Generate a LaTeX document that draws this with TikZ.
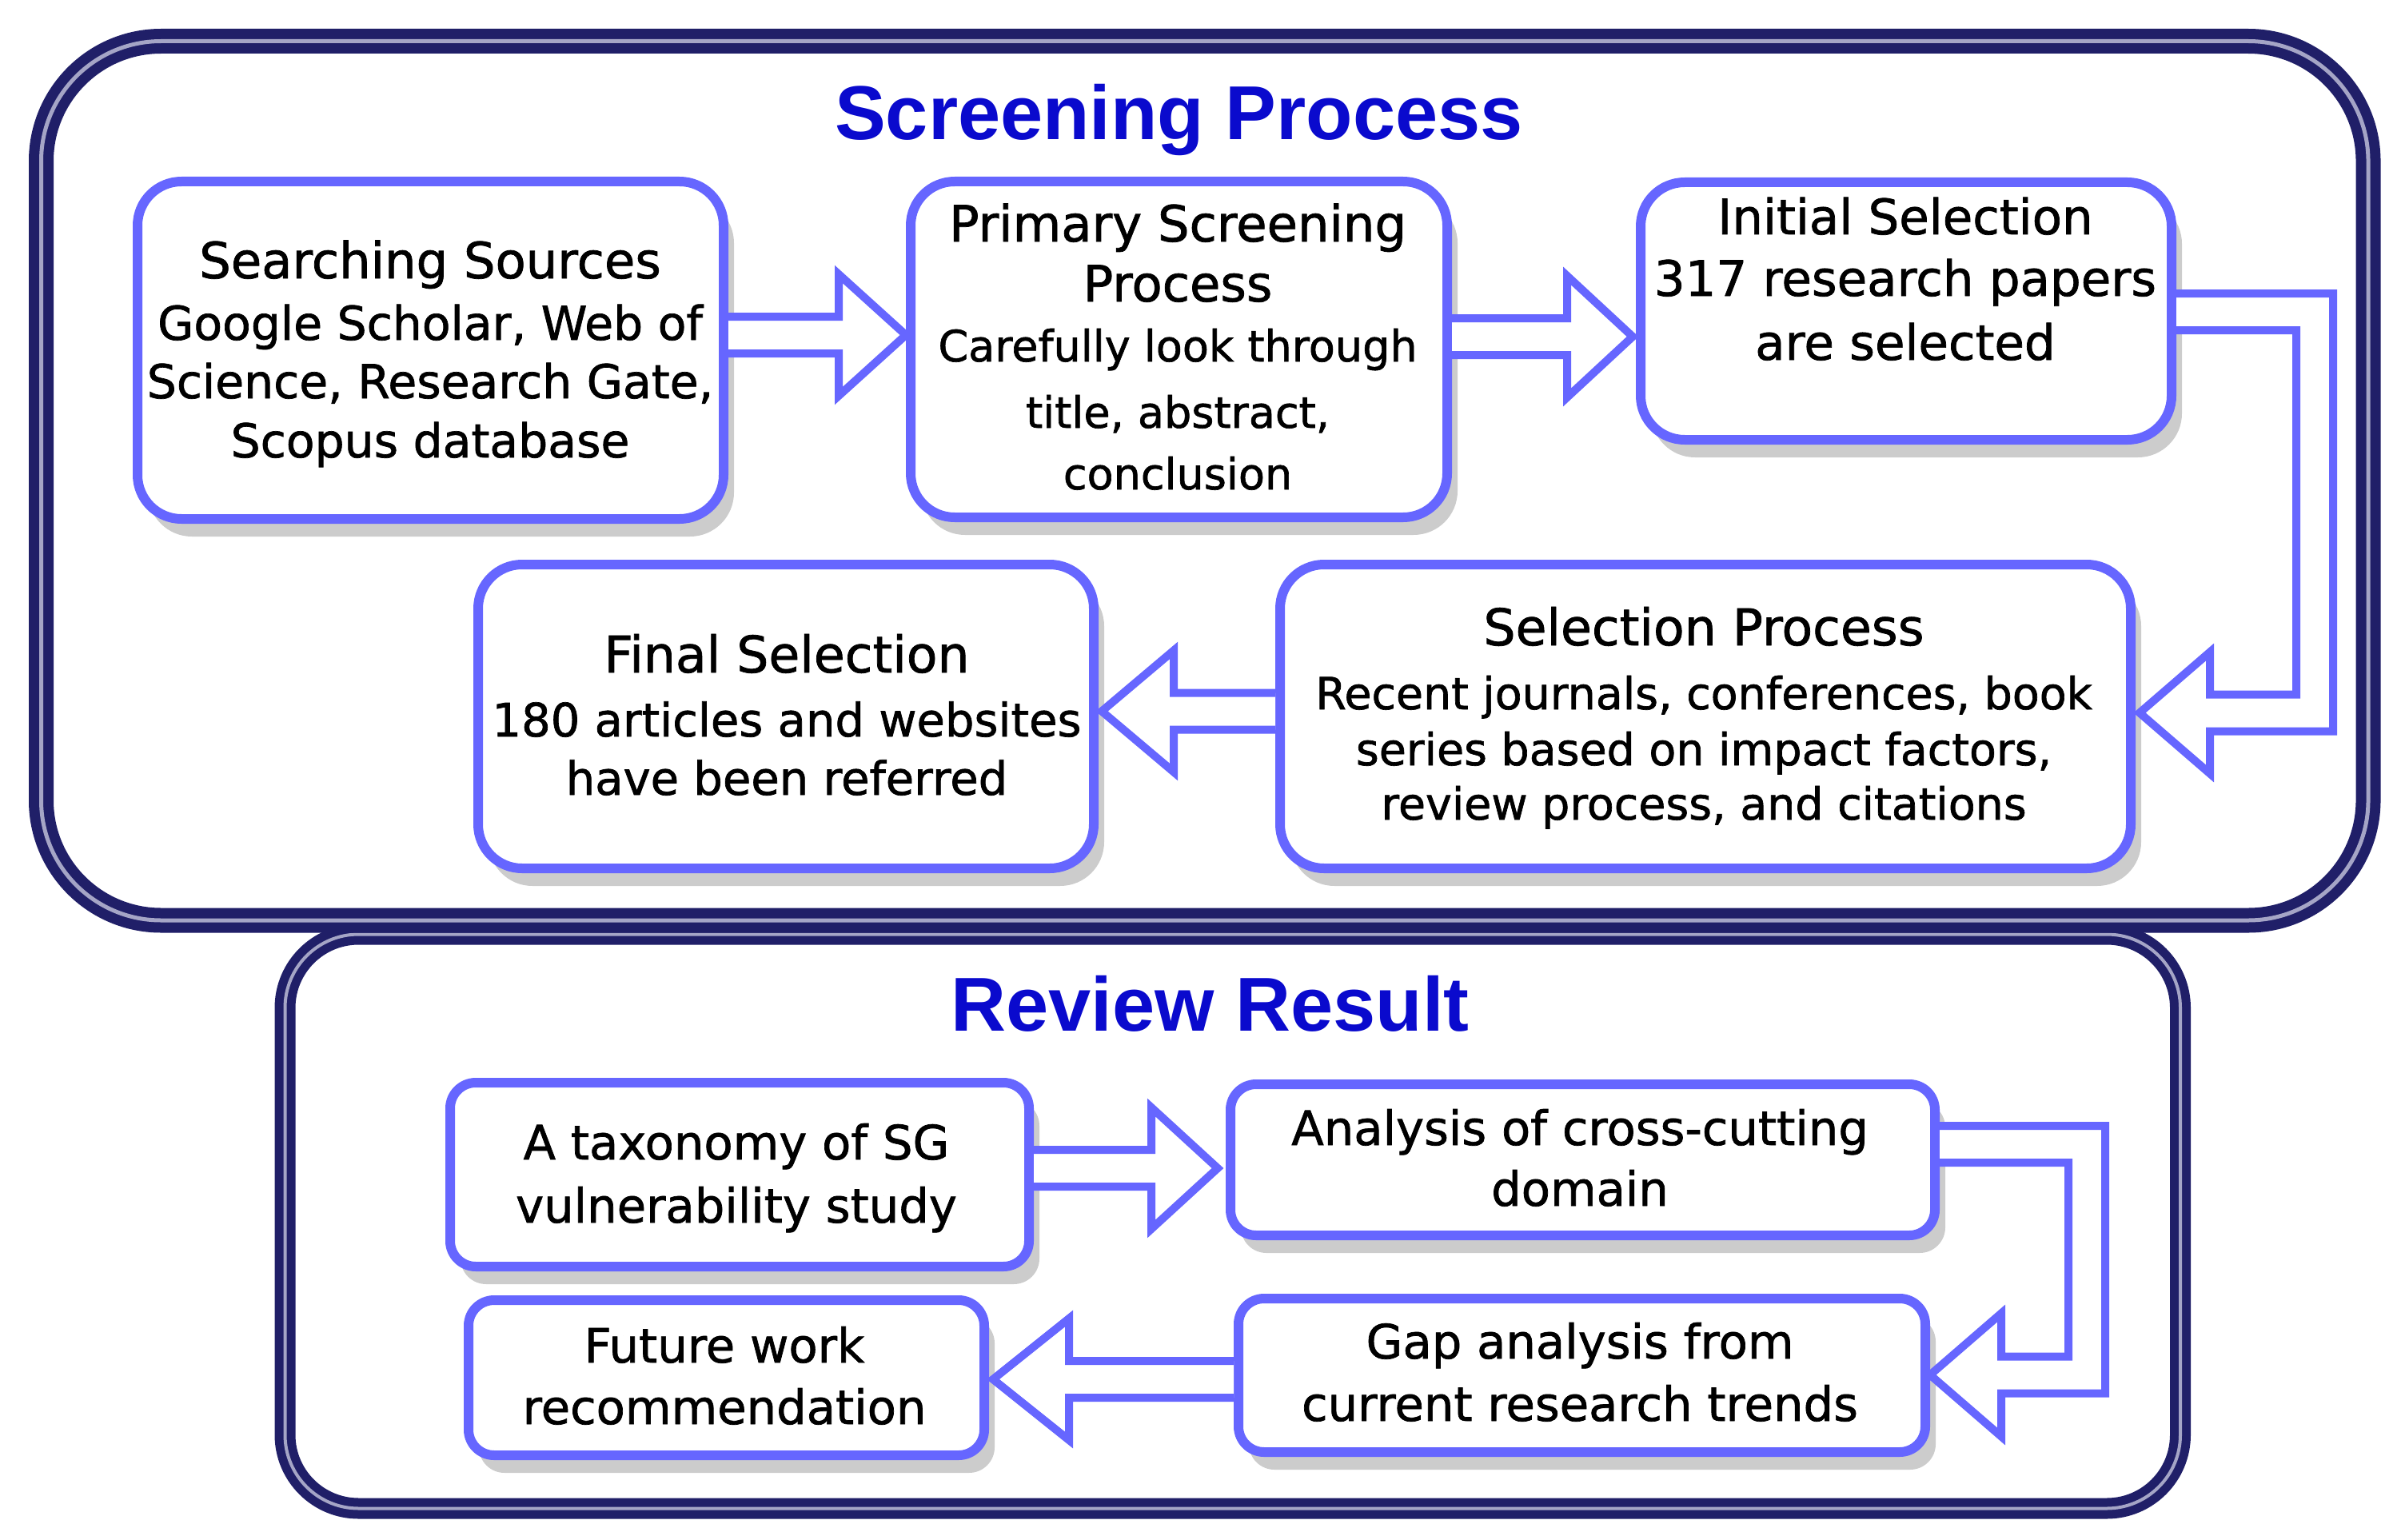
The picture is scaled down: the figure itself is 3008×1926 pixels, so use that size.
\documentclass[tikz,border=0pt]{standalone}
\usepackage{fontspec}
\setmainfont{DejaVu Sans}[FakeBold=1.2]
\newfontfamily\ttlfont{Liberation Sans}
\usetikzlibrary{calc,shadows}
\definecolor{boxblue}{RGB}{102,102,255}
\definecolor{navy}{RGB}{32,31,104}
\definecolor{gapc}{RGB}{165,165,198}
\definecolor{ttlblue}{RGB}{10,10,205}
\definecolor{shadowc}{RGB}{204,204,204}
\newcommand\fsH{\fontsize{15.6}{18}\selectfont}
\newcommand\fsB{\fontsize{14.6}{17}\selectfont}
\newcommand\fsC{\fontsize{13.5}{16}\selectfont}
\newcommand\fsD{\fontsize{15.25}{18}\selectfont}
\newcommand\fsE{\fontsize{13.85}{16}\selectfont}
\newcommand\fsF{\fontsize{14.4}{17}\selectfont}
\newcommand\fsI{\fontsize{15.8}{18}\selectfont}
\newcommand\fsR{\fontsize{14.8}{17}\selectfont}
\newcommand\hblock[3]{%
  \path[barrow] ($(#1)+(0,-23)$) -- ($(#2)+(#3,-23)$) -- ($(#2)+(#3,-76)$) -- (#2)
     -- ($(#2)+(#3,76)$) -- ($(#2)+(#3,23)$) -- ($(#1)+(0,23)$);}
\begin{document}
\begin{tikzpicture}[x=0.25pt,y=-0.25pt,
  frameA/.style={draw=navy, double=gapc, line width=3.25pt, double distance=1.25pt,
     rounded corners=37.5pt, inner sep=0pt},
  frameB/.style={draw=navy, double=gapc, line width=2.75pt, double distance=1pt,
     rounded corners=23pt, inner sep=0pt},
  box/.style={draw=boxblue, line width=3pt, fill=white, rounded corners=13.75pt, inner sep=0pt,
     drop shadow={shadow xshift=3.25pt, shadow yshift=-5.5pt, fill=shadowc, opacity=1}},
  rbox/.style={box, rounded corners=8pt},
  barrow/.style={draw=boxblue, line width=2.5pt, fill=white, line join=miter},
  txt/.style={anchor=base, inner sep=0pt, text=black},
  ttl/.style={anchor=base, inner sep=0pt, text=ttlblue, font=\ttlfont\bfseries\fontsize{23.9}{28}\selectfont}]
\useasboundingbox (0,0) rectangle (3008,1926);

% frames
\node[frameB, minimum width=592.625pt, minimum height=179.5pt] (frame2) at (1541.75,1527.5) {};
\node[frameA, minimum width=727.625pt, minimum height=274.875pt] (frame1) at (1506.75,601.25) {};

% titles
\node[ttl] (ttl1) at (1474.5,175) {Screening Process};
\node[ttl] (ttl2) at (1513.5,1289) {Review Result};

% boxes
\node[box, minimum width=183.25pt, minimum height=105.5pt] (b1) at (538.5,438) {};
\node[box, minimum width=167.75pt, minimum height=105pt] (b2) at (1474.5,437) {};
\node[box, minimum width=166pt, minimum height=80.5pt] (b3) at (2384,389) {};
\node[box, minimum width=266pt, minimum height=95pt] (b4) at (2133,896) {};
\node[box, minimum width=192.5pt, minimum height=95pt] (b5) at (983,896) {};
\node[rbox, minimum width=181pt, minimum height=57.5pt] (r1) at (925,1469) {};
\node[rbox, minimum width=220.25pt, minimum height=47.25pt] (r2) at (1979.5,1450.5) {};
\node[rbox, minimum width=214.75pt, minimum height=48pt] (r3) at (1978.5,1720) {};
\node[rbox, minimum width=161.25pt, minimum height=48.5pt] (r4) at (908.5,1723) {};

% straight block arrows
\coordinate (a1s) at (b1.east |- 0,419);
\coordinate (a1t) at (b2.west |- 0,419);
\hblock{a1s}{a1t}{-84}
\coordinate (a2s) at (b2.east |- 0,421);
\coordinate (a2t) at ($(b3.west |- 0,421)+(-4,0)$);
\hblock{a2s}{a2t}{-82}
\coordinate (a4s) at (b4.west |- 0,889.5);
\coordinate (a4t) at ($(b5.east |- 0,889.5)+(4,0)$);
\hblock{a4s}{a4t}{90}
\coordinate (a5s) at (r1.east |- 0,1461);
\coordinate (a5t) at ($(r2.west |- 0,1461)+(-10,0)$);
\hblock{a5s}{a5t}{-83}
\coordinate (a7s) at (r3.west |- 0,1725);
\coordinate (a7t) at ($(r4.east |- 0,1725)+(5,0)$);
\hblock{a7s}{a7t}{95}

% elbow block arrows
\coordinate (a3s) at (b3.east |- 0,390);
\coordinate (a3c) at (2895,891.5);
\coordinate (a3t) at ($(b4.east |- 0,891.5)+(5,0)$);
\path[barrow] ($(a3s)+(0,-23)$) -- ($(a3c |- a3s)+(23,-23)$) -- ($(a3c)+(23,23)$)
  -- ($(a3t)+(88,23)$) -- ($(a3t)+(88,76)$) -- (a3t) -- ($(a3t)+(88,-76)$)
  -- ($(a3t)+(88,-23)$) -- ($(a3c)+(-23,-23)$) -- ($(a3c |- a3s)+(-23,23)$) -- ($(a3s)+(0,23)$);
\coordinate (a6s) at (r2.east |- 0,1431);
\coordinate (a6c) at (2610,1719.5);
\coordinate (a6t) at (r3.east |- 0,1719.5);
\path[barrow] ($(a6s)+(0,-23)$) -- ($(a6c |- a6s)+(23,-23)$) -- ($(a6c)+(23,23)$)
  -- ($(a6t)+(89,23)$) -- ($(a6t)+(89,77)$) -- (a6t) -- ($(a6t)+(89,-77)$)
  -- ($(a6t)+(89,-23)$) -- ($(a6c)+(-23,-23)$) -- ($(a6c |- a6s)+(-23,23)$) -- ($(a6s)+(0,23)$);

% texts
\node[txt, font=\fsH] (t1a) at (538,348) {Searching Sources};
\node[txt, font=\fsB] (t1b) at (538,425) {Google Scholar, Web of};
\node[txt, font=\fsB] (t1c) at (538,498) {Science, Research Gate,};
\node[txt, font=\fsB] (t1d) at (538,572) {Scopus database};

\node[txt, font=\fsH] (t2a) at (1473,302) {Primary Screening};
\node[txt, font=\fsH] (t2b) at (1473,377) {Process};
\node[txt, font=\fsC] (t2c) at (1473,452) {Carefully look through};
\node[txt, font=\fsC] (t2d) at (1473,535) {title, abstract,};
\node[txt, font=\fsC] (t2e) at (1473,612) {conclusion};

\node[txt, font=\fsD] (t3a) at (2383,293) {Initial Selection};
\node[txt, font=\fsD] (t3b) at (2383,370) {317 research papers};
\node[txt, font=\fsD] (t3c) at (2383,450) {are selected};

\node[txt, font=\fsI] (t4a) at (2131,807) {Selection Process};
\node[txt, font=\fsE] (t4b) at (2131,887) {Recent journals, conferences, book};
\node[txt, font=\fsE] (t4c) at (2131,957) {series based on impact factors,};
\node[txt, font=\fsE] (t4d) at (2131,1025) {review process, and citations};

\node[txt, font=\fsI] (t5a) at (984,841) {Final Selection};
\node[txt, font=\fsF] (t5b) at (984,921) {180 articles and websites};
\node[txt, font=\fsF] (t5c) at (984,994) {have been referred};

\node[txt, font=\fsR] (r1a) at (921,1450) {A taxonomy of SG};
\node[txt, font=\fsR] (r1b) at (921,1529) {vulnerability study};
\node[txt, font=\fsR] (r2a) at (1976,1432) {Analysis of cross-cutting};
\node[txt, font=\fsR] (r2b) at (1976,1508) {domain};
\node[txt, font=\fsR] (r3a) at (1976,1699) {Gap analysis from};
\node[txt, font=\fsR] (r3b) at (1976,1777) {current research trends};
\node[txt, font=\fsR] (r4a) at (906,1704) {Future work};
\node[txt, font=\fsR] (r4b) at (906,1781) {recommendation};
\end{tikzpicture}
\end{document}
